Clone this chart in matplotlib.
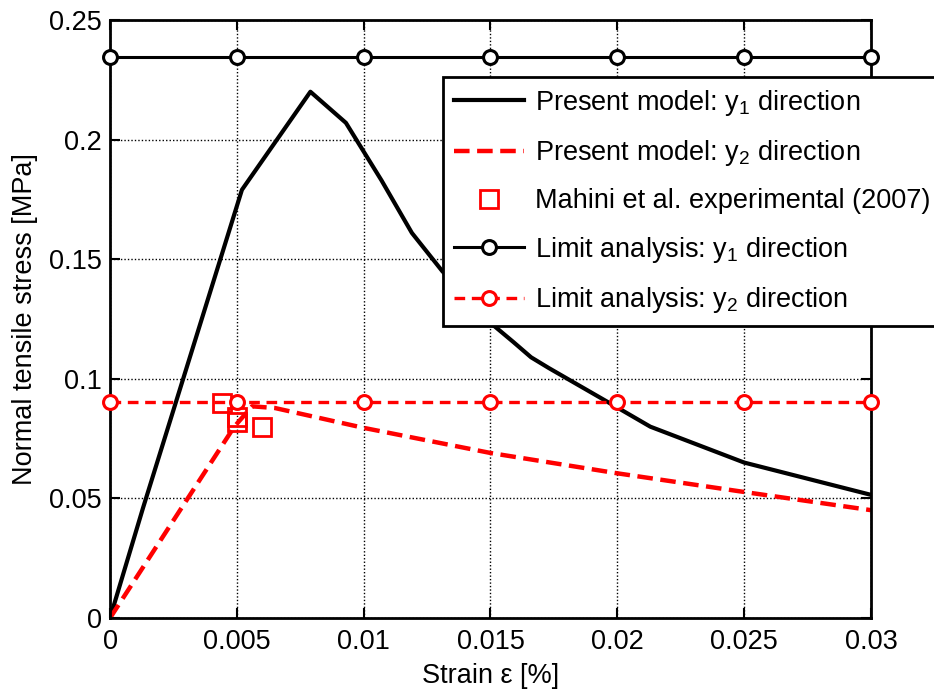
import matplotlib
matplotlib.use('Agg')
import matplotlib.pyplot as plt

plt.rcParams['font.family'] = ['Liberation Sans', 'DejaVu Sans']
plt.rcParams['mathtext.fontset'] = 'custom'
plt.rcParams['mathtext.rm'] = 'Liberation Sans'
plt.rcParams['mathtext.it'] = 'Liberation Sans'

# Present model, y1 direction
strain_y1 = [0, 0.0013, 0.0052, 0.0079, 0.0093, 0.0107, 0.0119, 0.0131, 0.0151,
             0.0159, 0.0166, 0.0173, 0.0200, 0.0213, 0.0250, 0.0300]
stress_y1 = [0, 0.046, 0.179, 0.220, 0.207, 0.183, 0.161, 0.145, 0.1225,
             0.1154, 0.109, 0.1045, 0.088, 0.080, 0.065, 0.0515]

# Present model, y2 direction
strain_y2 = [0, 0.0049, 0.0056, 0.0065, 0.0100, 0.0150, 0.0200, 0.0250, 0.0300]
stress_y2 = [0, 0.080, 0.0885, 0.0878, 0.0795, 0.069, 0.0605, 0.0527, 0.0451]

# Mahini et al. experimental (2007)
exp_strain = [0.0044, 0.0050, 0.0050, 0.0060]
exp_stress = [0.090, 0.084, 0.082, 0.080]

# Limit analysis
lim_strain = [0, 0.005, 0.01, 0.015, 0.02, 0.025, 0.03]
lim_y1 = [0.2345] * 7
lim_y2 = [0.0905] * 7

fig = plt.figure(figsize=(9.34, 6.96), dpi=100)
ax = fig.add_axes([0.1178, 0.112, 0.8147, 0.8593])

ax.plot(strain_y1, stress_y1, color='black', lw=3.0,
        label=r'Present model: $\mathregular{y_1}$ direction')
ax.plot(strain_y2, stress_y2, color='red', lw=3.2, dashes=(3.5, 1.7),
        label=r'Present model: $\mathregular{y_2}$ direction')
ax.plot(exp_strain, exp_stress, 's', color='red', mfc='none', mew=2.0, ms=13,
        label='Mahini et al. experimental (2007)', zorder=4)
ax.plot(lim_strain, lim_y1, '-o', color='black', lw=2.2, mfc='white', mew=2.2, ms=10,
        label=r'Limit analysis: $\mathregular{y_1}$ direction', clip_on=False, zorder=5)
ax.plot(lim_strain, lim_y2, '--o', color='red', lw=2.4, dashes=(3.2, 2.0), mfc='white',
        mew=2.2, ms=10, label=r'Limit analysis: $\mathregular{y_2}$ direction',
        clip_on=False, zorder=5)

ax.set_xlim(0, 0.03)
ax.set_ylim(0, 0.25)
ax.set_xticks([0, 0.005, 0.01, 0.015, 0.02, 0.025, 0.03])
ax.set_xticklabels(['0', '0.005', '0.01', '0.015', '0.02', '0.025', '0.03'])
ax.set_yticks([0, 0.05, 0.1, 0.15, 0.2, 0.25])
ax.set_yticklabels(['0', '0.05', '0.1', '0.15', '0.2', '0.25'])
ax.tick_params(direction='in', length=7, width=1.5, labelsize=19.5,
               top=True, right=True, pad=6)
ax.tick_params(axis='x', pad=8)
for s in ax.spines.values():
    s.set_linewidth(2.0)
ax.grid(True, color='black', linestyle=(0, (1, 1.5)), linewidth=1.0)

ax.set_xlabel('Strain ε [%]', fontsize=19.5, labelpad=6)
ax.set_ylabel('Normal tensile stress [MPa]', fontsize=19.5, labelpad=8)

leg = fig.legend(loc='upper left', bbox_to_anchor=(0.4743, 0.8894),
                 bbox_transform=fig.transFigure, borderaxespad=0,
                 fontsize=19.5, fancybox=False, framealpha=1,
                 edgecolor='black', handlelength=2.6, handletextpad=0.4,
                 labelspacing=0.75, borderpad=0.4)
leg.get_frame().set_linewidth(2.0)
leg.set_zorder(10)

fig.savefig('out.png', dpi=100)
